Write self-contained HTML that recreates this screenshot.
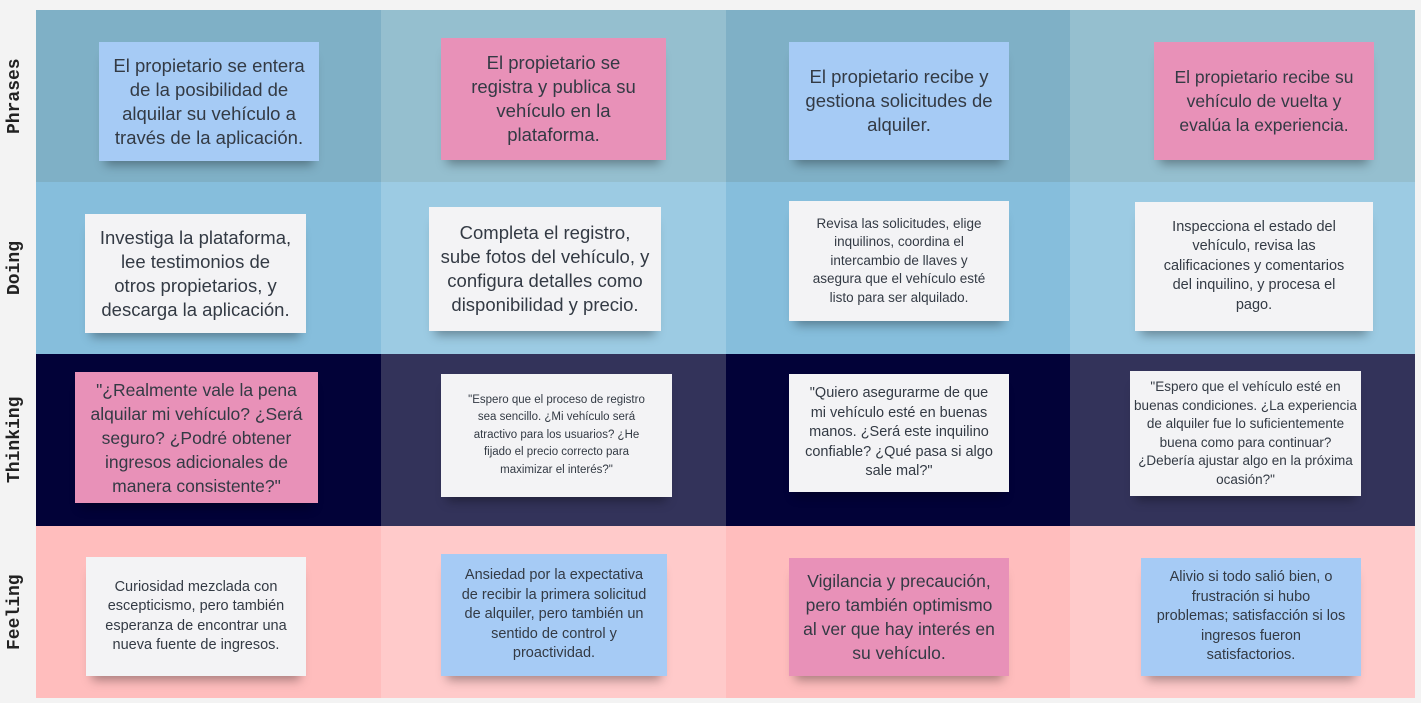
<!DOCTYPE html>
<html><head><meta charset="utf-8"><style>
body{margin:0;width:1421px;height:703px;background:#f3f3f3;position:relative;overflow:hidden;font-family:"Liberation Sans","DejaVu Sans",sans-serif}
.c{position:absolute}
.s{position:absolute;display:flex;align-items:center;justify-content:center;text-align:center;color:#333a44;box-sizing:border-box;padding:4px 2px;white-space:nowrap;box-shadow:0 10px 10px -6px rgba(0,0,0,.35)}
.b{background:#a6cbf5}.p{background:#e891b8}.w{background:#f3f3f5}
.lab{position:absolute;left:0;width:30px;font-family:"Liberation Mono",monospace;font-weight:bold;font-size:18px;color:#222;writing-mode:vertical-rl;transform:rotate(180deg);text-align:center}
.f18{font-size:18.5px;line-height:24px}.f16{font-size:17.5px;line-height:24px}.f14{font-size:14.5px;line-height:19.5px}.f12{font-size:13.5px;line-height:18.5px}.f11{font-size:11.5px;line-height:17.5px}
</style></head><body>
<div class="c" style="left:36px;top:10px;width:345px;height:172px;background:#7fb0c6"></div>
<div class="c" style="left:381px;top:10px;width:345px;height:172px;background:#95bfcf"></div>
<div class="c" style="left:726px;top:10px;width:344px;height:172px;background:#7fb0c6"></div>
<div class="c" style="left:1070px;top:10px;width:345px;height:172px;background:#95bfcf"></div>
<div class="c" style="left:36px;top:182px;width:345px;height:172px;background:#86bedc"></div>
<div class="c" style="left:381px;top:182px;width:345px;height:172px;background:#9ccbe3"></div>
<div class="c" style="left:726px;top:182px;width:344px;height:172px;background:#86bedc"></div>
<div class="c" style="left:1070px;top:182px;width:345px;height:172px;background:#9ccbe3"></div>
<div class="c" style="left:36px;top:354px;width:345px;height:172px;background:#020238"></div>
<div class="c" style="left:381px;top:354px;width:345px;height:172px;background:#33335a"></div>
<div class="c" style="left:726px;top:354px;width:344px;height:172px;background:#020238"></div>
<div class="c" style="left:1070px;top:354px;width:345px;height:172px;background:#33335a"></div>
<div class="c" style="left:36px;top:526px;width:345px;height:172px;background:#ffbdbd"></div>
<div class="c" style="left:381px;top:526px;width:345px;height:172px;background:#ffcaca"></div>
<div class="c" style="left:726px;top:526px;width:344px;height:172px;background:#ffbdbd"></div>
<div class="c" style="left:1070px;top:526px;width:345px;height:172px;background:#ffcaca"></div>

<div class="lab" style="top:10px;height:172px;line-height:30px">Phrases</div>
<div class="lab" style="top:182px;height:172px;line-height:30px">Doing</div>
<div class="lab" style="top:354px;height:172px;line-height:30px">Thinking</div>
<div class="lab" style="top:526px;height:172px;line-height:30px">Feeling</div>

<div class="s b f18" style="left:99px;top:42px;width:220px;height:119px">El propietario se entera<br>de la posibilidad de<br>alquilar su vehículo a<br>través de la aplicación.</div>
<div class="s p f18" style="left:441px;top:38px;width:225px;height:122px">El propietario se<br>registra y publica su<br>vehículo en la<br>plataforma.</div>
<div class="s b f18" style="left:789px;top:42px;width:220px;height:118px">El propietario recibe y<br>gestiona solicitudes de<br>alquiler.</div>
<div class="s p f16" style="left:1154px;top:42px;width:220px;height:118px">El propietario recibe su<br>vehículo de vuelta y<br>evalúa la experiencia.</div>

<div class="s w f18" style="left:85px;top:214px;width:221px;height:119px">Investiga la plataforma,<br>lee testimonios de<br>otros propietarios, y<br>descarga la aplicación.</div>
<div class="s w f18" style="left:429px;top:207px;width:232px;height:124px">Completa el registro,<br>sube fotos del vehículo, y<br>configura detalles como<br>disponibilidad y precio.</div>
<div class="s w f12" style="left:789px;top:201px;width:220px;height:120px">Revisa las solicitudes, elige<br>inquilinos, coordina el<br>intercambio de llaves y<br>asegura que el vehículo esté<br>listo para ser alquilado.</div>
<div class="s w f14" style="left:1135px;top:202px;width:238px;height:129px">Inspecciona el estado del<br>vehículo, revisa las<br>calificaciones y comentarios<br>del inquilino, y procesa el<br>pago.</div>

<div class="s p f16" style="left:75px;top:372px;width:243px;height:131px">"¿Realmente vale la pena<br>alquilar mi vehículo? ¿Será<br>seguro? ¿Podré obtener<br>ingresos adicionales de<br>manera consistente?"</div>
<div class="s w f11" style="left:441px;top:374px;width:231px;height:123px">"Espero que el proceso de registro<br>sea sencillo. ¿Mi vehículo será<br>atractivo para los usuarios? ¿He<br>fijado el precio correcto para<br>maximizar el interés?"</div>
<div class="s w f14" style="left:789px;top:374px;width:220px;height:118px">"Quiero asegurarme de que<br>mi vehículo esté en buenas<br>manos. ¿Será este inquilino<br>confiable? ¿Qué pasa si algo<br>sale mal?"</div>
<div class="s w f12" style="left:1130px;top:371px;width:231px;height:125px">"Espero que el vehículo esté en<br>buenas condiciones. ¿La experiencia<br>de alquiler fue lo suficientemente<br>buena como para continuar?<br>¿Debería ajustar algo en la próxima<br>ocasión?"</div>

<div class="s w f14" style="left:86px;top:557px;width:220px;height:119px">Curiosidad mezclada con<br>escepticismo, pero también<br>esperanza de encontrar una<br>nueva fuente de ingresos.</div>
<div class="s b f14" style="left:441px;top:554px;width:226px;height:122px">Ansiedad por la expectativa<br>de recibir la primera solicitud<br>de alquiler, pero también un<br>sentido de control y<br>proactividad.</div>
<div class="s p f16" style="left:789px;top:558px;width:220px;height:118px">Vigilancia y precaución,<br>pero también optimismo<br>al ver que hay interés en<br>su vehículo.</div>
<div class="s b f14" style="left:1141px;top:558px;width:220px;height:118px">Alivio si todo salió bien, o<br>frustración si hubo<br>problemas; satisfacción si los<br>ingresos fueron<br>satisfactorios.</div>
</body></html>
